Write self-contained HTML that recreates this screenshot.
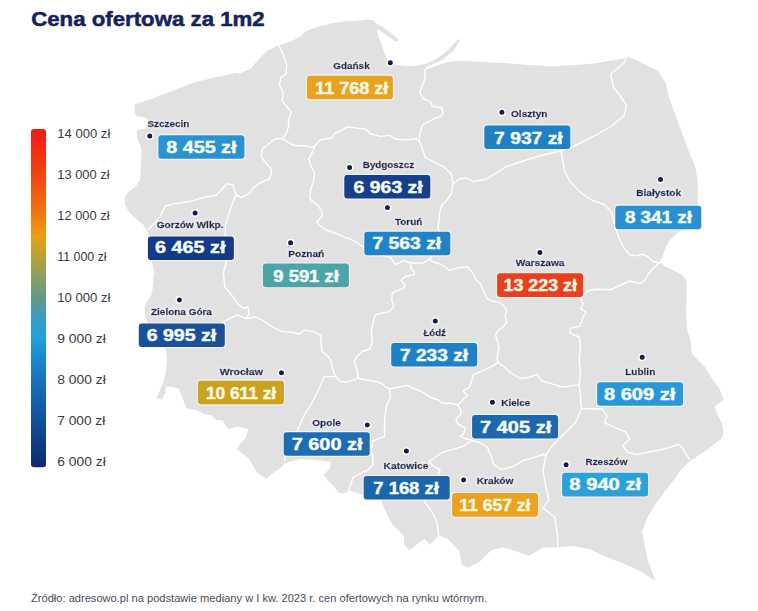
<!DOCTYPE html>
<html lang="pl"><head><meta charset="utf-8"><title>Cena ofertowa za 1m2</title>
<style>
html,body{margin:0;padding:0;background:#fff;}
body{width:758px;height:611px;overflow:hidden;position:relative;}
svg{position:absolute;left:0;top:0;display:block;}
text{font-family:'Liberation Sans', 'DejaVu Sans', sans-serif;}
</style></head><body>
<svg width="758" height="611" viewBox="0 0 758 611">
<defs>
<linearGradient id="lg" x1="0" y1="0" x2="0" y2="1">
<stop offset="0" stop-color="#f31a12"/>
<stop offset="0.136" stop-color="#f0440f"/>
<stop offset="0.257" stop-color="#f07a12"/>
<stop offset="0.317" stop-color="#eaa012"/>
<stop offset="0.378" stop-color="#b8a236"/>
<stop offset="0.439" stop-color="#88a068"/>
<stop offset="0.499" stop-color="#629a86"/>
<stop offset="0.56" stop-color="#3a9cc0"/>
<stop offset="0.620" stop-color="#20a0dc"/>
<stop offset="0.68" stop-color="#1a88cc"/>
<stop offset="0.742" stop-color="#1a72ba"/>
<stop offset="0.80" stop-color="#1661aa"/>
<stop offset="0.863" stop-color="#13509a"/>
<stop offset="0.92" stop-color="#103e86"/>
<stop offset="1" stop-color="#0c2a6c"/>
</linearGradient>
<filter id="halo" x="-15%" y="-50%" width="130%" height="200%">
<feMorphology in="SourceAlpha" operator="dilate" radius="1.2" result="d"/>
<feGaussianBlur in="d" stdDeviation="1.1" result="b"/>
<feFlood flood-color="#ffffff" flood-opacity="0.5"/>
<feComposite in2="b" operator="in" result="g"/>
<feMerge><feMergeNode in="g"/><feMergeNode in="SourceGraphic"/></feMerge>
</filter>
</defs>
<text x="31.2" y="25.9" font-size="20.3" font-weight="bold" fill="#15235d" stroke="#15235d" stroke-width="0.5" textLength="233.5" lengthAdjust="spacingAndGlyphs">Cena ofertowa za 1m2</text>

<path d="M134.7,104.7 139.6,102.8 149.5,99.8 159.3,95.9 169.1,92.3 193.7,82.5 215,77.5 235.5,72.8 240,73.3 250.8,68.8 258,59.8 267,50.8 277.8,45.4 290.5,41.8 301.5,35.8 306,31 320,26 333,23 345,21.3 355,21.1 367.7,19.5 374,20.3 375.6,22.7 383.5,27.4 391.4,33.7 397.7,38.5 398.5,41.7 394.6,40.9 386.7,35.3 378.7,29.8 377.2,30.6 378.7,36.9 381.9,44.8 384.3,52.7 388.2,60.7 394.6,64.6 405.7,66.2 418.3,65.4 427.8,63 437.3,58.3 446.8,51.2 454.7,43.2 458.7,38.5 459.5,40.9 453.1,51.2 443.6,59.1 434.2,63.8 426.2,67 424.7,70.2 437.3,65.4 446.8,62.2 457.9,60.7 475,61.5 512.8,63.7 552,66.4 592,63.7 623.6,58.5 628.9,57 637,60.6 658.3,71 666.2,84.3 668.8,97.5 676.7,118.6 687.3,147.6 695.2,166 697.8,182 697.8,206.4 700.5,227.5 680.4,230.7 674.7,235.3 669,241 665.5,247.9 663.2,254.8 659.8,262 664.4,266.2 670,268.5 677,272 682.7,275.4 686.1,280 686.7,286.9 686.7,295 686,310 687.3,331 690.6,340 691.7,353.8 696.3,358.3 705.5,367.5 712.3,379 719.2,388.1 723.8,399.6 714.6,406.5 716.9,413.4 721.5,422.5 723.8,431.7 721.5,438.6 710,447.8 696.3,456.9 689.4,461.5 678,473 676.7,476.4 665,491 656.4,502.6 647.7,517 642,531.6 644.8,546 647.7,560.6 653.5,575 655,581 642,572 630.3,566.4 615.8,560.6 601.3,554.8 589.7,549 572,546 555,547.6 543.2,547.4 528.7,556 514,550.3 502.6,547.4 491,550.3 479.3,562 467.7,567.7 462,564.8 459,550.3 447.4,538.7 438.7,535.8 430,544.5 424.2,538.7 409.7,550.3 403.9,544.5 403.9,535.8 392.2,524.2 383.5,506.8 380.6,498 369,498 364.3,495.2 357,493 350,490.5 342.6,493.7 338.2,492.2 333.9,486.4 328,480.6 323.7,474.8 329.5,469 331,461.8 315,460 300,459 284.5,463.2 281.6,467.6 274.4,472 270,475.6 266,478.7 257.4,472.9 248.7,458.4 237,449.7 240,443.9 245.8,438 248.7,429.3 237,426.4 228.4,429.3 222.6,420.6 215.8,420 211.8,415.2 203.9,413.9 196,410 186.7,408.6 184,402 181.5,395.4 178.8,388.8 170.9,386.2 165.6,387.5 165.6,392.8 161.7,399.4 156.4,398 163,383.5 165.6,373 166.9,359.8 166,350 158,338 150,326 146,318.4 144.4,308.6 146.8,302 150.9,295.5 152.6,289 153.4,279 154.2,271 151.7,261 149,245 148,233 143.9,225.2 136.5,219.3 129.2,211.9 124.7,204.5 124.7,197.2 129.2,191.3 136.5,185.4 140.2,179.5 141,164.7 141.7,150 139.6,143 137.2,139.1 136.7,131.3 138.7,129.3 144.6,129.3 147.5,125.4 148.5,120.5 145.5,117.5 141.6,116.5 136.7,116.5 134.7,113.6Z" fill="#e1e1e1"/>
<g fill="none" stroke="#fff" stroke-width="1.4" stroke-linejoin="round" stroke-linecap="round">
<polyline points="278.7,45.4 283.2,54.4 286.8,65.2 286,74.2 280.5,77.8 279.6,85 283.2,92.3 282.3,101.3 286.8,106.7 291.4,112 288.6,119.3 288.6,126.5 286,133.7 282.5,138.5"/>
<polyline points="282.5,138.5 275.1,138.8 262.4,149 261.4,157.4 266.6,163.8 271.9,170.1 269.8,178.5 260.3,182.8 254,187 249.8,193.3 241.3,197.5 236,195 232.9,184.9 226.5,183.8 222.3,189.1 216,195.4 203.3,197.5 188.5,201.8 173.8,203.9 165.3,206 161.1,214.4 154.8,222.9 148.4,229.2"/>
<polyline points="282.5,138.5 290,143.5 295,145.7 304.8,145.7 312.6,147.6 315.5,145"/>
<polyline points="315.5,145 316.6,143.7 320.5,139.8 332.3,137.8 334.2,133.9 342,130 347,126.9 356.5,128.1 366,129.2 370.7,134 380.2,136.4 389.7,135.2 394.5,138.7 404,140 415.9,138.7 419.4,141.1"/>
<polyline points="424.7,70.2 425.3,78.3 421.4,87.6 419.8,92.3 423,98.5 430.7,101.6 432.3,106.2 441.6,107.8 443.1,112.5 441,116 432.5,119.7 423,124.5 419.4,134 419.4,141.1"/>
<polyline points="419.4,141.1 423,150.6 425.4,157.7 434.9,162.5 444.4,167.2 451.5,174.4 452.7,183.9"/>
<polyline points="452.7,183.9 451.5,193.4 446.7,200.5 442,205.2 439.6,212.4 439.3,218.5 438,228.3 440.5,233.3 436,245 430.1,259.1"/>
<polyline points="315.5,145 313.6,149.6 308.7,159.4 310.7,165.3 314.6,173.1 313.6,181 310.7,188.8 309.7,198.6 316.6,204.5 321.5,210.4 322.5,216.3 316.6,222.2 320.5,226.1 326.4,230 332.3,232 342,235.9 351.9,239.8 356.5,242.5 363.6,247.2 380,255 390.6,257.4 393.1,261.5 395.5,264.7 399.6,262.3 404.5,260.6 410.5,263"/>
<polyline points="410.5,263 416.8,263.1 422.6,263.1 427.5,260.6 430.1,259.1"/>
<polyline points="452.7,183.9 458.9,179.3 466.3,178 473.6,181.7 485.9,179.3 498.2,171.9 505.5,167 520,162 539,156 561,150.8"/>
<polyline points="561,150.8 571.2,147.6 592.3,137 610.8,126.5 624,116 626.6,105.4 621.3,97.5 613.4,87 610.8,73.7 624,63.2 626,58"/>
<polyline points="561,150.8 564.5,170.5 570.1,181.8 581.4,193.1 592.7,200.6 604,204.4 611.5,211.9 615.3,227 619,238.3 624,248 630,254.8 635.7,255.9 642.6,254.2 648.3,257.1 652.9,261.7 659.8,262.8"/>
<polyline points="659.8,262.8 652.9,268.5 648.3,274.3 644.9,280 640.3,283.4 634.6,282.3 630,281 621,285 610,289.8 599.1,289.3 591.3,289.8 586.3,291.8 583.4,295.7 580.5,299.6 583.4,303.6 580.5,308.5 586.3,312.4 583.4,316.3 581.4,322.2 579.5,326.2 570.6,328.1 569.6,332.1 573.6,335 579.5,337 580.4,346.9 579.3,359.6 580.4,372.2 579.3,384.9"/>
<polyline points="579.3,384.9 581.5,408.5"/>
<polyline points="581.5,408.5 592,409 602.3,408.8 606.9,415.7 604.6,422.5 613.8,427.1 625.2,431.7 629.8,438.6 622.9,445.5 627.5,452.3 636.7,454.6 648.1,452.3 659.6,450 668.8,447.8 678,444.3 682.5,447.8 684.8,452.3 689.4,459.2"/>
<polyline points="581.5,408.5 575.5,422.6 563.7,434.4 552,446.2 546,455"/>
<polyline points="546,455 543,470.6 546,488 549,499.7 543,508 554.8,517 557.7,537.4 557.7,546.5"/>
<polyline points="471.7,440.4 479.7,442.7 487.6,447.5 490.7,455.4 493.9,464.9 501.8,469.7 512.9,466.5 524,460.2 530,458.6 543.2,454.5 546,455"/>
<polyline points="498,362.7 503.3,365.9 509.7,372.2 520.2,378.5 528.7,377.5 537.1,374.3 541.3,380.7 551.9,383.8 562.4,387 570.9,385.9 579.3,384.9"/>
<polyline points="430.1,259.1 431.5,261.3 441.4,264.5 449.5,270.3 457.7,267.8 467.6,267 472.5,272.7 475.7,279.3 480.6,284.2 483.9,292.4 487.2,298.9 493.7,301.4 498.6,302.2 503.6,305.5 506.8,310.4 505.2,315.3 506.8,321.8 503.6,326.7 498.6,330 495.5,334.5 497,340 499.1,346.9 497,357.4 498,362.7"/>
<polyline points="498,362.7 492.8,365.9 484.3,370.1 473.8,374.3 471.7,380.7 469.6,387 463.2,391.2 467.4,395.4 461.1,401.8 457.5,404.7"/>
<polyline points="389.4,389 398.4,387.2 407.4,385.4 414.6,389 420,390.8 432,398.2 438.5,400 441.7,403.2 449.6,403.2 457.5,404.7"/>
<polyline points="457.5,404.7 460.7,409.5 460.7,414.2 455.9,419 457.5,423.7 465.4,428.5 463.8,433.2 460.7,436.4 465.4,438.8 471.7,440.4"/>
<polyline points="471.7,440.4 463.8,445.9 454.3,449.1 443.2,452.2 435.3,457 429,461.7 433.7,466.5 440,469.7 438,476 430,490 424,501 432,512 437,522.5 438.7,535.8"/>
<polyline points="410.5,263 411.1,268.8 414.4,272.1 414.4,274.5 410.3,275.4 404.5,277 401.3,280.3 403.7,283.6 405.4,285.2 402.9,288.5 396.4,290.9 392.3,293.4 391.8,300.8 393.9,306.2 389.4,311.6 380.4,313.4 375,315.2 373.2,322.4 371.4,331.4 372.3,342.2 369.6,349.4 362.4,351.2 357,356.6 354.3,362 357,369.2 357.9,376.4 357.9,378.2"/>
<polyline points="357.9,378.2 366,380 376.8,381.8 382.2,383.6 385.8,387.2 389.4,389"/>
<polyline points="335.5,376.6 340.8,381.8 348,381.8 357.9,378.2"/>
<polyline points="236,195 233,201.8 228.7,214.4 225.5,225 225,240 226.2,261.9 223.4,273 224.8,287 231.8,295.3 237.4,303.7 243,308 248,307 249,314 246,318.5"/>
<polyline points="246,318.5 237.4,314.8 226.2,320.4 217.9,326 200,332"/>
<polyline points="246,318.5 256.4,317 262,320 270.8,326 281.9,331.6 290.7,332 300,334 303.7,330.3 312.3,331.1 320.9,335.4 320.9,342.3 321.7,350.9 327.7,356 331.2,361.2 332.9,369.7 335.5,376.6"/>
<polyline points="335.5,376.6 324.3,376.6 319.2,388.6 312.3,402.3 303.7,416 298,429.3 290,440 286.4,446.8 284.5,460"/>
<polyline points="389.4,389 390.3,397.2 386,407.5 384.4,422.2 384.6,430 384.6,436.6 372.8,440.6 371.5,449.8 372.8,456.4 372.8,464.3 368.8,469.6 359.6,473.5 353,477.5 350.3,485.4 349,490.7"/>
</g>
<rect x="31" y="129" width="15" height="338.3" rx="3" fill="url(#lg)"/>
<text x="57.3" y="138.05" font-size="11.9" fill="#3a3a46" textLength="53.0" lengthAdjust="spacingAndGlyphs">14 000 zł</text>
<text x="57.3" y="179.06" font-size="11.9" fill="#3a3a46" textLength="52.3" lengthAdjust="spacingAndGlyphs">13 000 zł</text>
<text x="57.3" y="220.07" font-size="11.9" fill="#3a3a46" textLength="52.3" lengthAdjust="spacingAndGlyphs">12 000 zł</text>
<text x="57.3" y="261.08" font-size="11.9" fill="#3a3a46" textLength="49.3" lengthAdjust="spacingAndGlyphs">11 000 zł</text>
<text x="57.3" y="302.09" font-size="11.9" fill="#3a3a46" textLength="53.2" lengthAdjust="spacingAndGlyphs">10 000 zł</text>
<text x="57.3" y="343.10" font-size="11.9" fill="#3a3a46" textLength="48.6" lengthAdjust="spacingAndGlyphs">9 000 zł</text>
<text x="57.3" y="384.11" font-size="11.9" fill="#3a3a46" textLength="48.6" lengthAdjust="spacingAndGlyphs">8 000 zł</text>
<text x="57.3" y="425.12" font-size="11.9" fill="#3a3a46" textLength="47.9" lengthAdjust="spacingAndGlyphs">7 000 zł</text>
<text x="57.3" y="466.13" font-size="11.9" fill="#3a3a46" textLength="48.6" lengthAdjust="spacingAndGlyphs">6 000 zł</text>
<circle cx="390.3" cy="62.7" r="3.2" fill="#161b4c" stroke="#fff" stroke-width="1.4"/>
<text x="333.2" y="68.9" font-size="8.7" font-weight="bold" fill="#19265a" stroke="#19265a" stroke-width="0.4" filter="url(#halo)" textLength="36.5" lengthAdjust="spacingAndGlyphs">Gdańsk</text>
<rect x="305.8" y="74.6" width="88.2" height="25.8" rx="4" fill="#fff" fill-opacity="0.6"/>
<rect x="306.9" y="75.7" width="86" height="23.6" rx="3" fill="#e9a21d"/>
<text x="315.1" y="94.2" font-size="16.6" font-weight="bold" fill="#fff8e0" stroke="#fff8e0" stroke-width="0.45" textLength="73.3" lengthAdjust="spacingAndGlyphs">11 768 zł</text>
<circle cx="149.8" cy="136.1" r="3.2" fill="#161b4c" stroke="#fff" stroke-width="1.4"/>
<text x="147.5" y="126.6" font-size="8.7" font-weight="bold" fill="#19265a" stroke="#19265a" stroke-width="0.4" filter="url(#halo)" textLength="41.9" lengthAdjust="spacingAndGlyphs">Szczecin</text>
<rect x="157.3" y="134.1" width="88.2" height="25.8" rx="4" fill="#fff" fill-opacity="0.6"/>
<rect x="158.4" y="135.2" width="86" height="23.6" rx="3" fill="#2a92d2"/>
<text x="166.2" y="153.0" font-size="16.6" font-weight="bold" fill="#f4fcff" stroke="#f4fcff" stroke-width="0.45" textLength="70.3" lengthAdjust="spacingAndGlyphs">8 455 zł</text>
<circle cx="501.9" cy="112.2" r="3.2" fill="#161b4c" stroke="#fff" stroke-width="1.4"/>
<text x="511.0" y="117.4" font-size="8.7" font-weight="bold" fill="#19265a" stroke="#19265a" stroke-width="0.4" filter="url(#halo)" textLength="36.4" lengthAdjust="spacingAndGlyphs">Olsztyn</text>
<rect x="483.2" y="124.3" width="88.2" height="25.8" rx="4" fill="#fff" fill-opacity="0.6"/>
<rect x="484.3" y="125.4" width="86" height="23.6" rx="3" fill="#1f80c6"/>
<text x="494.1" y="143.5" font-size="16.6" font-weight="bold" fill="#f4fcff" stroke="#f4fcff" stroke-width="0.45" textLength="68.6" lengthAdjust="spacingAndGlyphs">7 937 zł</text>
<circle cx="349.6" cy="167.4" r="3.2" fill="#161b4c" stroke="#fff" stroke-width="1.4"/>
<text x="362.8" y="167.7" font-size="8.7" font-weight="bold" fill="#19265a" stroke="#19265a" stroke-width="0.4" filter="url(#halo)" textLength="51.3" lengthAdjust="spacingAndGlyphs">Bydgoszcz</text>
<rect x="343.2" y="173.9" width="88.2" height="25.8" rx="4" fill="#fff" fill-opacity="0.6"/>
<rect x="344.3" y="175.0" width="86" height="23.6" rx="3" fill="#153f8b"/>
<text x="353.6" y="193.0" font-size="16.6" font-weight="bold" fill="#f4fcff" stroke="#f4fcff" stroke-width="0.45" textLength="69.1" lengthAdjust="spacingAndGlyphs">6 963 zł</text>
<circle cx="660.5" cy="179.6" r="3.2" fill="#161b4c" stroke="#fff" stroke-width="1.4"/>
<text x="636.3" y="196.0" font-size="8.7" font-weight="bold" fill="#19265a" stroke="#19265a" stroke-width="0.4" filter="url(#halo)" textLength="44.8" lengthAdjust="spacingAndGlyphs">Białystok</text>
<rect x="614.2" y="204.6" width="88.2" height="25.8" rx="4" fill="#fff" fill-opacity="0.6"/>
<rect x="615.3" y="205.7" width="86" height="23.6" rx="3" fill="#2a90d0"/>
<text x="624.9" y="223.3" font-size="16.6" font-weight="bold" fill="#f4fcff" stroke="#f4fcff" stroke-width="0.45" textLength="67.1" lengthAdjust="spacingAndGlyphs">8 341 zł</text>
<circle cx="387.5" cy="207.6" r="3.2" fill="#161b4c" stroke="#fff" stroke-width="1.4"/>
<text x="395.0" y="224.9" font-size="8.7" font-weight="bold" fill="#19265a" stroke="#19265a" stroke-width="0.4" filter="url(#halo)" textLength="27.2" lengthAdjust="spacingAndGlyphs">Toruń</text>
<rect x="363.2" y="230.6" width="88.2" height="25.8" rx="4" fill="#fff" fill-opacity="0.6"/>
<rect x="364.3" y="231.7" width="86" height="23.6" rx="3" fill="#2083c8"/>
<text x="372.5" y="249.4" font-size="16.6" font-weight="bold" fill="#f4fcff" stroke="#f4fcff" stroke-width="0.45" textLength="68.7" lengthAdjust="spacingAndGlyphs">7 563 zł</text>
<circle cx="195.1" cy="212.9" r="3.2" fill="#161b4c" stroke="#fff" stroke-width="1.4"/>
<text x="156.7" y="228.0" font-size="8.7" font-weight="bold" fill="#19265a" stroke="#19265a" stroke-width="0.4" filter="url(#halo)" textLength="66.8" lengthAdjust="spacingAndGlyphs">Gorzów Wlkp.</text>
<rect x="146.8" y="235.4" width="88.2" height="25.8" rx="4" fill="#fff" fill-opacity="0.6"/>
<rect x="147.9" y="236.5" width="86" height="23.6" rx="3" fill="#133a86"/>
<text x="155.1" y="253.3" font-size="16.6" font-weight="bold" fill="#f4fcff" stroke="#f4fcff" stroke-width="0.45" textLength="70.3" lengthAdjust="spacingAndGlyphs">6 465 zł</text>
<circle cx="290.6" cy="242.7" r="3.2" fill="#161b4c" stroke="#fff" stroke-width="1.4"/>
<text x="288.3" y="256.6" font-size="8.7" font-weight="bold" fill="#19265a" stroke="#19265a" stroke-width="0.4" filter="url(#halo)" textLength="36.0" lengthAdjust="spacingAndGlyphs">Poznań</text>
<rect x="261.8" y="262.5" width="88.2" height="25.8" rx="4" fill="#fff" fill-opacity="0.6"/>
<rect x="262.9" y="263.6" width="86" height="23.6" rx="3" fill="#4ba4a8"/>
<text x="273.3" y="282.2" font-size="16.6" font-weight="bold" fill="#f4fcff" stroke="#f4fcff" stroke-width="0.45" textLength="65.5" lengthAdjust="spacingAndGlyphs">9 591 zł</text>
<circle cx="539.9" cy="252.4" r="3.2" fill="#161b4c" stroke="#fff" stroke-width="1.4"/>
<text x="515.7" y="266.0" font-size="8.7" font-weight="bold" fill="#19265a" stroke="#19265a" stroke-width="0.4" filter="url(#halo)" textLength="48.8" lengthAdjust="spacingAndGlyphs">Warszawa</text>
<rect x="496.0" y="272.2" width="88.2" height="25.8" rx="4" fill="#fff" fill-opacity="0.6"/>
<rect x="497.1" y="273.3" width="86" height="23.6" rx="3" fill="#ec3e1c"/>
<text x="503.5" y="290.9" font-size="16.6" font-weight="bold" fill="#fff8e0" stroke="#fff8e0" stroke-width="0.45" textLength="73.5" lengthAdjust="spacingAndGlyphs">13 223 zł</text>
<circle cx="179.4" cy="300.0" r="3.2" fill="#161b4c" stroke="#fff" stroke-width="1.4"/>
<text x="151.0" y="314.9" font-size="8.7" font-weight="bold" fill="#19265a" stroke="#19265a" stroke-width="0.4" filter="url(#halo)" textLength="60.9" lengthAdjust="spacingAndGlyphs">Zielona Góra</text>
<rect x="137.7" y="322.4" width="88.2" height="25.8" rx="4" fill="#fff" fill-opacity="0.6"/>
<rect x="138.8" y="323.5" width="86" height="23.6" rx="3" fill="#1b5199"/>
<text x="146.7" y="340.7" font-size="16.6" font-weight="bold" fill="#f4fcff" stroke="#f4fcff" stroke-width="0.45" textLength="69.5" lengthAdjust="spacingAndGlyphs">6 995 zł</text>
<circle cx="435.3" cy="321.1" r="3.2" fill="#161b4c" stroke="#fff" stroke-width="1.4"/>
<text x="423.4" y="335.8" font-size="8.7" font-weight="bold" fill="#19265a" stroke="#19265a" stroke-width="0.4" filter="url(#halo)" textLength="22.5" lengthAdjust="spacingAndGlyphs">Łódź</text>
<rect x="390.1" y="341.8" width="88.2" height="25.8" rx="4" fill="#fff" fill-opacity="0.6"/>
<rect x="391.2" y="342.9" width="86" height="23.6" rx="3" fill="#2080c6"/>
<text x="400.1" y="360.7" font-size="16.6" font-weight="bold" fill="#f4fcff" stroke="#f4fcff" stroke-width="0.45" textLength="67.9" lengthAdjust="spacingAndGlyphs">7 233 zł</text>
<circle cx="642.2" cy="357.2" r="3.2" fill="#161b4c" stroke="#fff" stroke-width="1.4"/>
<text x="625.2" y="375.1" font-size="8.7" font-weight="bold" fill="#19265a" stroke="#19265a" stroke-width="0.4" filter="url(#halo)" textLength="30.1" lengthAdjust="spacingAndGlyphs">Lublin</text>
<rect x="596.0" y="381.1" width="88.2" height="25.8" rx="4" fill="#fff" fill-opacity="0.6"/>
<rect x="597.1" y="382.2" width="86" height="23.6" rx="3" fill="#2a98d5"/>
<text x="603.9" y="399.6" font-size="16.6" font-weight="bold" fill="#f4fcff" stroke="#f4fcff" stroke-width="0.45" textLength="71.5" lengthAdjust="spacingAndGlyphs">8 609 zł</text>
<circle cx="281.5" cy="372.7" r="3.2" fill="#161b4c" stroke="#fff" stroke-width="1.4"/>
<text x="219.7" y="374.6" font-size="8.7" font-weight="bold" fill="#19265a" stroke="#19265a" stroke-width="0.4" filter="url(#halo)" textLength="43.2" lengthAdjust="spacingAndGlyphs">Wrocław</text>
<rect x="196.8" y="379.6" width="88.2" height="25.8" rx="4" fill="#fff" fill-opacity="0.6"/>
<rect x="197.9" y="380.7" width="86" height="23.6" rx="3" fill="#c9a21f"/>
<text x="205.9" y="398.8" font-size="16.6" font-weight="bold" fill="#fff8e0" stroke="#fff8e0" stroke-width="0.45" textLength="70.3" lengthAdjust="spacingAndGlyphs">10 611 zł</text>
<circle cx="492.4" cy="402.3" r="3.2" fill="#161b4c" stroke="#fff" stroke-width="1.4"/>
<text x="501.3" y="405.8" font-size="8.7" font-weight="bold" fill="#19265a" stroke="#19265a" stroke-width="0.4" filter="url(#halo)" textLength="29.0" lengthAdjust="spacingAndGlyphs">Kielce</text>
<rect x="471.0" y="413.8" width="88.2" height="25.8" rx="4" fill="#fff" fill-opacity="0.6"/>
<rect x="472.1" y="414.9" width="86" height="23.6" rx="3" fill="#1c68af"/>
<text x="480.1" y="432.7" font-size="16.6" font-weight="bold" fill="#f4fcff" stroke="#f4fcff" stroke-width="0.45" textLength="71.1" lengthAdjust="spacingAndGlyphs">7 405 zł</text>
<circle cx="367.3" cy="425.0" r="3.2" fill="#161b4c" stroke="#fff" stroke-width="1.4"/>
<text x="312.3" y="425.5" font-size="8.7" font-weight="bold" fill="#19265a" stroke="#19265a" stroke-width="0.4" filter="url(#halo)" textLength="28.5" lengthAdjust="spacingAndGlyphs">Opole</text>
<rect x="282.6" y="431.1" width="88.2" height="25.8" rx="4" fill="#fff" fill-opacity="0.6"/>
<rect x="283.7" y="432.2" width="86" height="23.6" rx="3" fill="#1d6db4"/>
<text x="291.7" y="449.6" font-size="16.6" font-weight="bold" fill="#f4fcff" stroke="#f4fcff" stroke-width="0.45" textLength="70.8" lengthAdjust="spacingAndGlyphs">7 600 zł</text>
<circle cx="566.1" cy="464.7" r="3.2" fill="#161b4c" stroke="#fff" stroke-width="1.4"/>
<text x="585.5" y="465.0" font-size="8.7" font-weight="bold" fill="#19265a" stroke="#19265a" stroke-width="0.4" filter="url(#halo)" textLength="41.9" lengthAdjust="spacingAndGlyphs">Rzeszów</text>
<rect x="561.0" y="471.7" width="88.2" height="25.8" rx="4" fill="#fff" fill-opacity="0.6"/>
<rect x="562.1" y="472.8" width="86" height="23.6" rx="3" fill="#29a2da"/>
<text x="569.3" y="490.4" font-size="16.6" font-weight="bold" fill="#f4fcff" stroke="#f4fcff" stroke-width="0.45" textLength="71.9" lengthAdjust="spacingAndGlyphs">8 940 zł</text>
<circle cx="406.4" cy="451.1" r="3.2" fill="#161b4c" stroke="#fff" stroke-width="1.4"/>
<text x="383.6" y="469.3" font-size="8.7" font-weight="bold" fill="#19265a" stroke="#19265a" stroke-width="0.4" filter="url(#halo)" textLength="44.9" lengthAdjust="spacingAndGlyphs">Katowice</text>
<rect x="362.6" y="474.9" width="88.2" height="25.8" rx="4" fill="#fff" fill-opacity="0.6"/>
<rect x="363.7" y="476.0" width="86" height="23.6" rx="3" fill="#1c65ac"/>
<text x="373.3" y="493.8" font-size="16.6" font-weight="bold" fill="#f4fcff" stroke="#f4fcff" stroke-width="0.45" textLength="65.5" lengthAdjust="spacingAndGlyphs">7 168 zł</text>
<circle cx="463.6" cy="480.0" r="3.2" fill="#161b4c" stroke="#fff" stroke-width="1.4"/>
<text x="476.7" y="484.0" font-size="8.7" font-weight="bold" fill="#19265a" stroke="#19265a" stroke-width="0.4" filter="url(#halo)" textLength="36.8" lengthAdjust="spacingAndGlyphs">Kraków</text>
<rect x="451.0" y="492.0" width="88.2" height="25.8" rx="4" fill="#fff" fill-opacity="0.6"/>
<rect x="452.1" y="493.1" width="86" height="23.6" rx="3" fill="#eaa220"/>
<text x="459.3" y="511.2" font-size="16.6" font-weight="bold" fill="#fff8e0" stroke="#fff8e0" stroke-width="0.45" textLength="71.1" lengthAdjust="spacingAndGlyphs">11 657 zł</text>
<text x="31" y="601.9" font-size="10.5" fill="#4a4b5c" textLength="456" lengthAdjust="spacingAndGlyphs">Źródło: adresowo.pl na podstawie mediany w I kw. 2023 r. cen ofertowych na rynku wtórnym.</text>
</svg></body></html>
